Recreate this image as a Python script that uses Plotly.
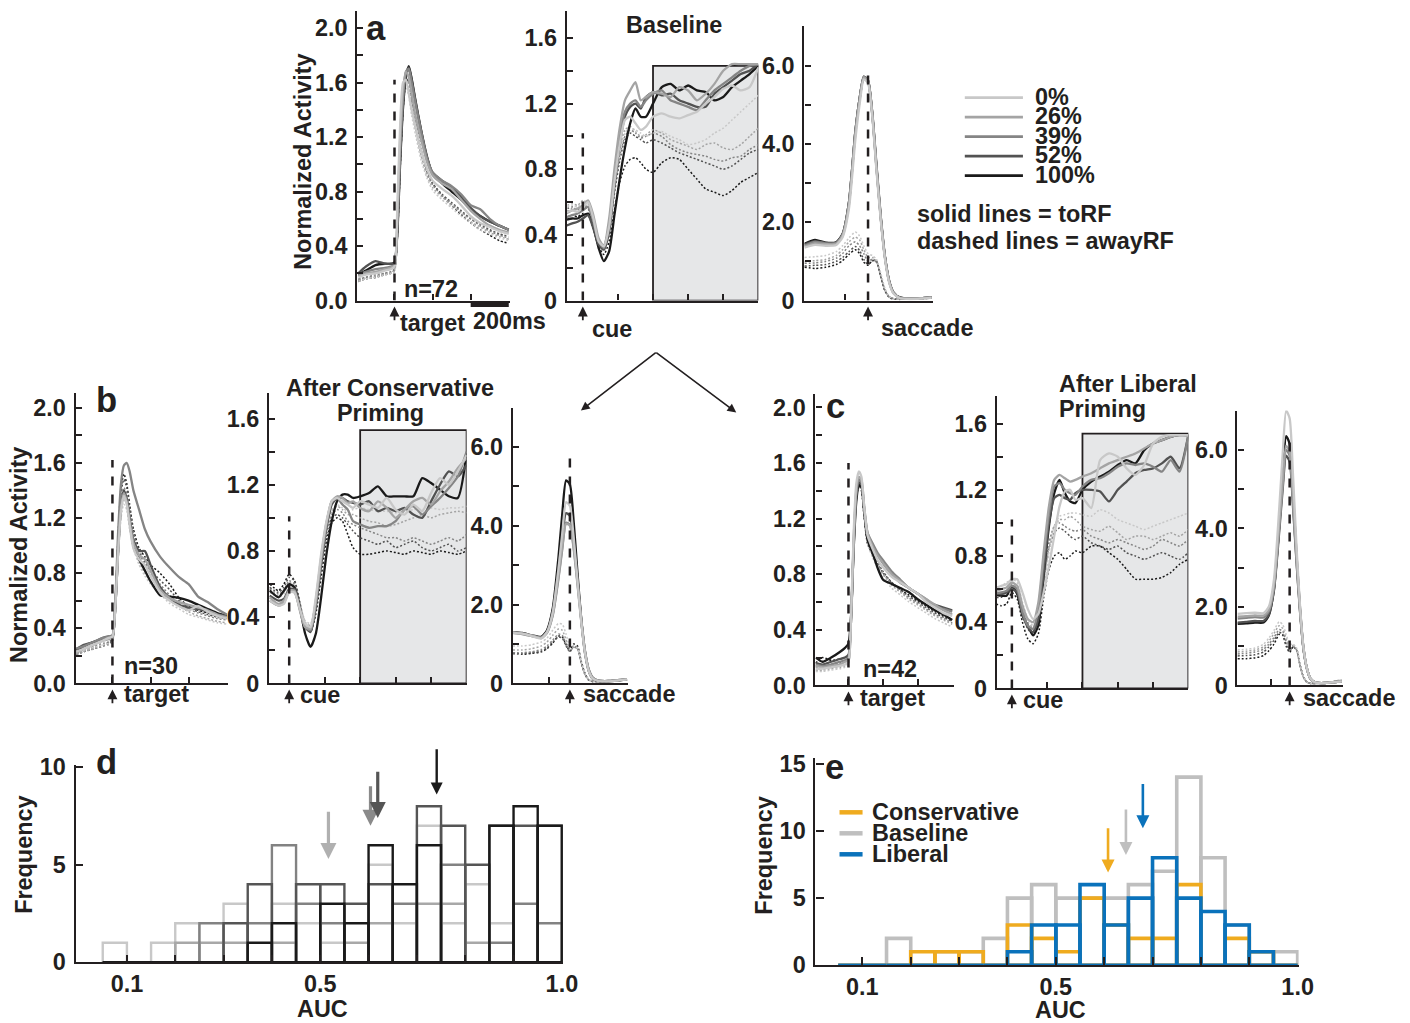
import plotly.graph_objects as go

W, H = 1410, 1023
FONT = "Liberation Sans"
INK = "#231f20"
# measured capture mapping of this page (picture = S * layout + B); positions are pre-compensated
RX_S, RX_B = 0.987, 0.5
RY_S, RY_B = 0.977, 10.3
K = 1.0 / ((RX_S + RY_S) / 2)   # pixel-size compensation

# ---------------- data ----------------
levels = ["0%", "26%", "39%", "52%", "100%"]
level_colors = ["#c8c8c8", "#a4a4a4", "#858585", "#525252", "#1a1a1a"]

t_target = [-190, -150, -100, -50, -20, 0, 15, 30, 45, 60, 75, 90, 110, 140, 170, 200, 250, 300, 350, 400, 450, 500, 550, 600]
t_cue = [-110, -60, -30, 0, 30, 60, 90, 120, 150, 180, 210, 240, 270, 300, 330, 360, 400, 450, 500, 550, 600, 650, 700, 750, 800, 850, 900, 950, 1000]
t_sacc = [-300, -250, -200, -150, -120, -90, -60, -40, -20, 0, 20, 40, 60, 80, 100, 120, 150, 200, 250, 300]

# ----- panel a (baseline, n=72) -----
a_target_toRF = [
    [0.17, 0.19, 0.20, 0.22, 0.23, 0.25, 0.70, 1.30, 1.60, 1.62, 1.52, 1.40, 1.28, 1.10, 0.97, 0.88, 0.82, 0.77, 0.70, 0.62, 0.57, 0.54, 0.51, 0.49],
    [0.18, 0.20, 0.21, 0.23, 0.24, 0.26, 0.62, 1.20, 1.55, 1.68, 1.64, 1.52, 1.36, 1.18, 1.02, 0.92, 0.86, 0.82, 0.74, 0.66, 0.60, 0.55, 0.52, 0.50],
    [0.19, 0.21, 0.23, 0.24, 0.25, 0.26, 0.55, 1.10, 1.48, 1.68, 1.70, 1.60, 1.45, 1.24, 1.05, 0.94, 0.88, 0.84, 0.78, 0.70, 0.67, 0.60, 0.55, 0.52],
    [0.20, 0.25, 0.29, 0.27, 0.27, 0.27, 0.52, 1.05, 1.45, 1.66, 1.71, 1.62, 1.46, 1.24, 1.05, 0.94, 0.88, 0.83, 0.76, 0.68, 0.62, 0.58, 0.55, 0.52],
    [0.19, 0.22, 0.26, 0.27, 0.27, 0.28, 0.50, 1.02, 1.42, 1.64, 1.72, 1.63, 1.47, 1.25, 1.06, 0.93, 0.86, 0.80, 0.74, 0.67, 0.62, 0.58, 0.55, 0.52],
]
a_target_awayRF = [
    [0.14, 0.16, 0.17, 0.19, 0.20, 0.21, 0.60, 1.20, 1.52, 1.58, 1.50, 1.36, 1.22, 1.03, 0.90, 0.81, 0.74, 0.68, 0.62, 0.57, 0.52, 0.49, 0.46, 0.44],
    [0.15, 0.16, 0.18, 0.19, 0.20, 0.22, 0.55, 1.12, 1.48, 1.62, 1.56, 1.42, 1.26, 1.06, 0.92, 0.83, 0.76, 0.70, 0.64, 0.58, 0.54, 0.50, 0.47, 0.45],
    [0.16, 0.17, 0.19, 0.20, 0.21, 0.22, 0.50, 1.05, 1.44, 1.62, 1.60, 1.46, 1.30, 1.08, 0.94, 0.85, 0.77, 0.71, 0.65, 0.60, 0.55, 0.51, 0.48, 0.46],
    [0.15, 0.17, 0.18, 0.20, 0.21, 0.23, 0.48, 1.02, 1.42, 1.62, 1.62, 1.48, 1.32, 1.10, 0.95, 0.86, 0.78, 0.72, 0.66, 0.60, 0.56, 0.52, 0.49, 0.47],
    [0.14, 0.16, 0.17, 0.19, 0.20, 0.22, 0.46, 0.98, 1.40, 1.60, 1.62, 1.50, 1.34, 1.11, 0.96, 0.86, 0.77, 0.70, 0.63, 0.57, 0.52, 0.48, 0.44, 0.42],
]
a_cue_toRF = [
    [0.53, 0.55, 0.54, 0.57, 0.60, 0.50, 0.36, 0.33, 0.45, 0.72, 0.95, 1.10, 1.12, 1.08, 1.04, 1.06, 1.12, 1.14, 1.12, 1.11, 1.13, 1.15, 1.20, 1.24, 1.29, 1.31, 1.28, 1.30, 1.42],
    [0.52, 0.55, 0.56, 0.58, 0.61, 0.52, 0.38, 0.33, 0.50, 0.80, 1.05, 1.22, 1.28, 1.33, 1.22, 1.24, 1.27, 1.26, 1.24, 1.30, 1.28, 1.22, 1.26, 1.32, 1.40, 1.44, 1.44, 1.44, 1.44],
    [0.50, 0.52, 0.53, 0.55, 0.57, 0.48, 0.36, 0.32, 0.46, 0.76, 1.00, 1.15, 1.20, 1.22, 1.18, 1.22, 1.26, 1.28, 1.22, 1.20, 1.18, 1.16, 1.22, 1.28, 1.32, 1.36, 1.40, 1.43, 1.44],
    [0.45, 0.47, 0.48, 0.50, 0.52, 0.44, 0.34, 0.31, 0.42, 0.70, 0.95, 1.12, 1.18, 1.20, 1.17, 1.24, 1.27, 1.25, 1.26, 1.22, 1.20, 1.18, 1.18, 1.26, 1.30, 1.34, 1.38, 1.40, 1.44],
    [0.49, 0.50, 0.50, 0.52, 0.53, 0.45, 0.32, 0.24, 0.30, 0.52, 0.74, 0.93, 1.08, 1.17, 1.12, 1.12, 1.20, 1.30, 1.32, 1.28, 1.31, 1.28, 1.27, 1.22, 1.24, 1.30, 1.34, 1.38, 1.43],
]
a_cue_awayRF = [
    [0.56, 0.58, 0.57, 0.60, 0.58, 0.48, 0.36, 0.34, 0.46, 0.70, 0.90, 1.02, 1.05, 1.04, 1.02, 1.00, 1.02, 1.03, 1.00, 0.98, 0.95, 0.96, 0.98, 1.02, 1.05, 1.10, 1.15, 1.20, 1.25],
    [0.57, 0.59, 0.58, 0.61, 0.59, 0.50, 0.37, 0.34, 0.48, 0.72, 0.92, 1.04, 1.06, 1.03, 1.00, 1.01, 1.04, 1.02, 0.98, 0.96, 0.94, 0.92, 0.95, 0.96, 0.93, 0.92, 0.95, 1.00, 1.05],
    [0.53, 0.56, 0.56, 0.58, 0.57, 0.48, 0.36, 0.32, 0.44, 0.68, 0.88, 1.00, 1.04, 1.02, 0.99, 1.00, 1.02, 1.00, 0.95, 0.92, 0.90, 0.89, 0.88, 0.86, 0.85, 0.87, 0.88, 0.92, 0.95],
    [0.55, 0.57, 0.55, 0.57, 0.56, 0.47, 0.35, 0.31, 0.42, 0.65, 0.85, 0.98, 1.02, 1.00, 0.98, 0.96, 0.98, 0.96, 0.93, 0.90, 0.88, 0.86, 0.84, 0.82, 0.80, 0.82, 0.86, 0.90, 0.92],
    [0.50, 0.52, 0.51, 0.53, 0.52, 0.44, 0.33, 0.28, 0.36, 0.55, 0.72, 0.82, 0.86, 0.87, 0.84, 0.80, 0.78, 0.84, 0.87, 0.86, 0.80, 0.74, 0.68, 0.66, 0.64, 0.67, 0.72, 0.75, 0.78],
]
a_sacc_toRF = [
    [1.35, 1.42, 1.40, 1.42, 1.62, 2.35, 4.10, 5.00, 5.65, 5.55, 4.70, 3.30, 2.05, 1.05, 0.45, 0.18, 0.06, 0.04, 0.05, 0.07],
    [1.38, 1.46, 1.44, 1.45, 1.66, 2.45, 4.25, 5.10, 5.70, 5.60, 4.75, 3.35, 2.10, 1.08, 0.47, 0.19, 0.07, 0.05, 0.06, 0.08],
    [1.40, 1.50, 1.46, 1.47, 1.68, 2.50, 4.30, 5.15, 5.72, 5.62, 4.78, 3.40, 2.12, 1.10, 0.48, 0.20, 0.07, 0.05, 0.06, 0.08],
    [1.43, 1.52, 1.47, 1.48, 1.70, 2.50, 4.30, 5.15, 5.70, 5.60, 4.75, 3.38, 2.10, 1.10, 0.48, 0.20, 0.07, 0.05, 0.06, 0.08],
    [1.45, 1.55, 1.48, 1.49, 1.70, 2.52, 4.32, 5.15, 5.72, 5.62, 4.80, 3.45, 2.15, 1.12, 0.50, 0.21, 0.08, 0.05, 0.06, 0.08],
]
a_sacc_awayRF = [
    [1.10, 1.12, 1.15, 1.25, 1.40, 1.60, 1.75, 1.65, 1.40, 1.20, 1.15, 1.05, 0.70, 0.30, 0.10, 0.05, 0.04, 0.04, 0.05, 0.06],
    [1.00, 1.02, 1.05, 1.15, 1.30, 1.50, 1.62, 1.55, 1.30, 1.10, 1.10, 1.02, 0.65, 0.28, 0.10, 0.05, 0.04, 0.04, 0.05, 0.06],
    [0.95, 0.96, 1.00, 1.08, 1.20, 1.40, 1.50, 1.40, 1.20, 1.00, 1.06, 1.00, 0.62, 0.26, 0.09, 0.05, 0.04, 0.04, 0.05, 0.06],
    [0.88, 0.90, 0.92, 1.00, 1.10, 1.25, 1.38, 1.28, 1.05, 0.92, 1.02, 0.98, 0.60, 0.25, 0.09, 0.05, 0.04, 0.04, 0.05, 0.06],
    [0.85, 0.82, 0.85, 0.92, 1.02, 1.18, 1.30, 1.20, 0.98, 0.90, 1.02, 1.00, 0.62, 0.25, 0.08, 0.04, 0.03, 0.04, 0.05, 0.06],
]

# ----- panel b (after conservative priming, n=30) -----
b_target_toRF = [
    [0.23, 0.25, 0.28, 0.31, 0.33, 0.34, 0.55, 0.95, 1.25, 1.36, 1.30, 1.15, 0.98, 0.90, 0.86, 0.78, 0.66, 0.60, 0.56, 0.53, 0.56, 0.52, 0.49, 0.47],
    [0.22, 0.25, 0.28, 0.31, 0.32, 0.33, 0.55, 0.96, 1.28, 1.38, 1.32, 1.18, 1.02, 0.93, 0.90, 0.82, 0.68, 0.62, 0.59, 0.57, 0.55, 0.53, 0.50, 0.48],
    [0.25, 0.27, 0.30, 0.33, 0.34, 0.35, 0.60, 1.10, 1.45, 1.58, 1.60, 1.54, 1.40, 1.26, 1.12, 1.03, 0.92, 0.84, 0.77, 0.72, 0.63, 0.59, 0.54, 0.50],
    [0.25, 0.28, 0.30, 0.33, 0.34, 0.34, 0.56, 0.98, 1.30, 1.40, 1.34, 1.20, 1.04, 0.96, 0.96, 0.86, 0.70, 0.62, 0.57, 0.55, 0.54, 0.52, 0.50, 0.49],
    [0.24, 0.27, 0.30, 0.32, 0.33, 0.34, 0.55, 0.96, 1.28, 1.38, 1.33, 1.18, 1.00, 0.90, 0.82, 0.74, 0.64, 0.63, 0.62, 0.60, 0.57, 0.54, 0.51, 0.49],
]
b_target_awayRF = [
    [0.22, 0.24, 0.26, 0.28, 0.29, 0.30, 0.50, 0.90, 1.20, 1.30, 1.26, 1.12, 0.98, 0.86, 0.78, 0.72, 0.65, 0.58, 0.54, 0.50, 0.48, 0.46, 0.44, 0.43],
    [0.21, 0.23, 0.25, 0.27, 0.28, 0.30, 0.52, 0.95, 1.25, 1.34, 1.30, 1.16, 1.00, 0.88, 0.80, 0.74, 0.66, 0.60, 0.56, 0.52, 0.49, 0.47, 0.45, 0.44],
    [0.23, 0.25, 0.27, 0.29, 0.30, 0.31, 0.55, 1.00, 1.32, 1.42, 1.38, 1.24, 1.08, 0.94, 0.86, 0.80, 0.72, 0.64, 0.58, 0.54, 0.51, 0.49, 0.47, 0.46],
    [0.22, 0.24, 0.26, 0.28, 0.30, 0.32, 0.56, 1.05, 1.38, 1.48, 1.42, 1.28, 1.10, 0.96, 0.88, 0.82, 0.75, 0.68, 0.60, 0.55, 0.52, 0.50, 0.48, 0.47],
    [0.21, 0.23, 0.25, 0.27, 0.29, 0.31, 0.58, 1.08, 1.42, 1.52, 1.45, 1.30, 1.12, 0.98, 0.92, 0.86, 0.80, 0.72, 0.62, 0.56, 0.53, 0.51, 0.49, 0.48],
]
b_cue_toRF = [
    [0.50, 0.47, 0.48, 0.55, 0.55, 0.45, 0.36, 0.34, 0.52, 0.78, 0.98, 1.10, 1.12, 1.10, 1.08, 1.06, 1.10, 1.08, 1.06, 1.12, 1.05, 1.02, 1.08, 1.04, 1.15, 1.24, 1.20, 1.28, 1.38],
    [0.52, 0.48, 0.50, 0.56, 0.56, 0.44, 0.34, 0.33, 0.50, 0.76, 0.97, 1.10, 1.13, 1.12, 1.09, 1.10, 1.06, 1.04, 1.10, 1.06, 1.00, 1.05, 1.10, 1.12, 1.08, 1.16, 1.22, 1.30, 1.36],
    [0.50, 0.47, 0.49, 0.55, 0.55, 0.45, 0.34, 0.32, 0.48, 0.74, 0.96, 1.10, 1.12, 1.08, 1.05, 0.98, 0.96, 0.94, 0.95, 0.95, 0.98, 1.05, 1.07, 1.02, 1.07, 1.12, 1.18, 1.25, 1.40],
    [0.53, 0.50, 0.51, 0.57, 0.57, 0.46, 0.34, 0.31, 0.46, 0.72, 0.94, 1.08, 1.12, 1.12, 1.10, 1.09, 1.08, 1.10, 1.04, 1.06, 1.04, 1.06, 1.02, 1.00, 1.10, 1.20, 1.28, 1.25, 1.32],
    [0.56, 0.52, 0.56, 0.60, 0.58, 0.46, 0.30, 0.22, 0.30, 0.52, 0.78, 0.98, 1.10, 1.14, 1.14, 1.12, 1.13, 1.15, 1.19, 1.13, 1.13, 1.13, 1.13, 1.24, 1.21, 1.17, 1.13, 1.12, 1.39],
]
b_cue_awayRF = [
    [0.55, 0.52, 0.54, 0.60, 0.58, 0.48, 0.38, 0.36, 0.50, 0.75, 0.95, 1.05, 1.08, 1.06, 1.04, 1.05, 1.06, 1.05, 1.04, 1.04, 1.03, 1.04, 1.05, 1.05, 1.06, 1.05, 1.06, 1.06, 1.07],
    [0.56, 0.53, 0.55, 0.61, 0.59, 0.48, 0.37, 0.35, 0.50, 0.74, 0.94, 1.04, 1.07, 1.05, 1.02, 1.02, 1.00, 0.98, 0.97, 0.95, 0.96, 0.98, 1.00, 1.02, 1.00, 1.02, 1.03, 1.04, 1.03],
    [0.57, 0.54, 0.56, 0.62, 0.60, 0.48, 0.36, 0.34, 0.48, 0.72, 0.92, 1.02, 1.05, 1.03, 0.98, 0.96, 0.94, 0.92, 0.90, 0.88, 0.88, 0.86, 0.88, 0.86, 0.84, 0.86, 0.88, 0.86, 0.90],
    [0.58, 0.55, 0.58, 0.64, 0.62, 0.49, 0.36, 0.33, 0.46, 0.70, 0.90, 1.00, 1.02, 1.00, 0.96, 0.92, 0.88, 0.86, 0.84, 0.86, 0.82, 0.84, 0.86, 0.82, 0.80, 0.82, 0.84, 0.80, 0.82],
    [0.60, 0.56, 0.60, 0.66, 0.62, 0.48, 0.35, 0.31, 0.42, 0.64, 0.86, 0.97, 1.00, 0.98, 0.90, 0.82, 0.78, 0.78, 0.79, 0.80, 0.79, 0.78, 0.80, 0.79, 0.78, 0.80, 0.79, 0.78, 0.80],
]
b_sacc_toRF = [
    [1.28, 1.26, 1.20, 1.14, 1.30, 1.80, 2.90, 3.80, 4.60, 4.50, 3.70, 2.60, 1.55, 0.75, 0.30, 0.12, 0.06, 0.05, 0.07, 0.10],
    [1.30, 1.27, 1.22, 1.16, 1.30, 1.75, 2.70, 3.45, 4.05, 4.00, 3.40, 2.50, 1.55, 0.78, 0.32, 0.14, 0.07, 0.06, 0.08, 0.10],
    [1.28, 1.25, 1.20, 1.15, 1.28, 1.72, 2.65, 3.40, 4.08, 4.02, 3.45, 2.55, 1.60, 0.80, 0.34, 0.15, 0.07, 0.06, 0.08, 0.10],
    [1.29, 1.27, 1.21, 1.17, 1.32, 1.85, 2.90, 3.70, 4.32, 4.25, 3.60, 2.65, 1.62, 0.80, 0.33, 0.14, 0.07, 0.06, 0.08, 0.10],
    [1.30, 1.28, 1.22, 1.18, 1.35, 1.90, 3.20, 4.30, 5.15, 5.05, 4.10, 2.80, 1.60, 0.75, 0.30, 0.12, 0.06, 0.05, 0.07, 0.10],
]
b_sacc_awayRF = [
    [0.95, 0.95, 0.98, 1.05, 1.15, 1.35, 1.52, 1.50, 1.25, 0.95, 0.95, 0.90, 0.55, 0.25, 0.10, 0.06, 0.05, 0.05, 0.07, 0.09],
    [0.85, 0.85, 0.88, 0.95, 1.05, 1.22, 1.38, 1.35, 1.10, 0.88, 0.92, 0.88, 0.52, 0.22, 0.09, 0.05, 0.05, 0.05, 0.07, 0.09],
    [0.78, 0.78, 0.80, 0.86, 0.95, 1.10, 1.25, 1.22, 1.00, 0.82, 0.92, 0.88, 0.50, 0.22, 0.08, 0.05, 0.05, 0.05, 0.07, 0.09],
    [0.75, 0.76, 0.78, 0.82, 0.90, 1.05, 1.18, 1.15, 0.95, 0.80, 0.95, 0.90, 0.52, 0.22, 0.08, 0.05, 0.05, 0.05, 0.07, 0.09],
    [0.78, 0.74, 0.76, 0.80, 0.88, 1.02, 1.20, 1.18, 0.98, 0.82, 1.00, 0.95, 0.55, 0.24, 0.08, 0.05, 0.05, 0.05, 0.07, 0.10],
]

# ----- panel c (after liberal priming, n=42) -----
c_target_toRF = [
    [0.12, 0.12, 0.13, 0.14, 0.15, 0.17, 0.50, 1.10, 1.45, 1.54, 1.50, 1.30, 1.08, 0.98, 0.90, 0.85, 0.78, 0.74, 0.70, 0.66, 0.60, 0.56, 0.52, 0.50],
    [0.14, 0.13, 0.14, 0.15, 0.17, 0.18, 0.48, 1.05, 1.40, 1.50, 1.48, 1.30, 1.10, 1.00, 0.93, 0.88, 0.80, 0.75, 0.70, 0.66, 0.62, 0.58, 0.54, 0.51],
    [0.15, 0.14, 0.15, 0.17, 0.18, 0.20, 0.48, 1.02, 1.38, 1.48, 1.46, 1.28, 1.10, 1.02, 0.95, 0.90, 0.82, 0.76, 0.70, 0.66, 0.62, 0.57, 0.55, 0.53],
    [0.16, 0.15, 0.17, 0.19, 0.20, 0.22, 0.47, 1.00, 1.36, 1.46, 1.45, 1.28, 1.08, 1.00, 0.94, 0.88, 0.80, 0.74, 0.70, 0.66, 0.61, 0.58, 0.56, 0.54],
    [0.20, 0.17, 0.20, 0.24, 0.27, 0.30, 0.50, 0.98, 1.32, 1.44, 1.43, 1.26, 1.05, 0.95, 0.84, 0.76, 0.73, 0.70, 0.67, 0.62, 0.58, 0.54, 0.51, 0.47],
]
c_target_awayRF = [
    [0.10, 0.10, 0.11, 0.12, 0.13, 0.15, 0.45, 1.00, 1.38, 1.48, 1.44, 1.24, 1.02, 0.92, 0.84, 0.78, 0.70, 0.65, 0.60, 0.56, 0.52, 0.48, 0.45, 0.42],
    [0.11, 0.11, 0.12, 0.13, 0.14, 0.16, 0.46, 1.02, 1.40, 1.50, 1.45, 1.25, 1.03, 0.93, 0.86, 0.80, 0.72, 0.67, 0.62, 0.58, 0.54, 0.50, 0.47, 0.44],
    [0.13, 0.12, 0.13, 0.14, 0.15, 0.17, 0.46, 1.00, 1.38, 1.48, 1.44, 1.25, 1.04, 0.94, 0.87, 0.81, 0.73, 0.68, 0.63, 0.59, 0.55, 0.51, 0.48, 0.45],
    [0.14, 0.14, 0.15, 0.16, 0.17, 0.19, 0.47, 1.00, 1.36, 1.46, 1.42, 1.24, 1.04, 0.95, 0.88, 0.82, 0.74, 0.69, 0.64, 0.60, 0.56, 0.52, 0.49, 0.46],
    [0.16, 0.20, 0.18, 0.19, 0.20, 0.22, 0.48, 1.00, 1.34, 1.44, 1.40, 1.22, 1.02, 0.94, 0.87, 0.81, 0.74, 0.69, 0.65, 0.61, 0.57, 0.53, 0.50, 0.47],
]
c_cue_toRF = [
    [0.60, 0.62, 0.63, 0.66, 0.66, 0.58, 0.48, 0.42, 0.45, 0.58, 0.74, 0.92, 1.10, 1.19, 1.20, 1.14, 1.15, 1.09, 1.38, 1.42, 1.40, 1.33, 1.29, 1.35, 1.48, 1.52, 1.53, 1.53, 1.53],
    [0.58, 0.60, 0.61, 0.64, 0.62, 0.50, 0.42, 0.40, 0.52, 0.82, 1.10, 1.26, 1.29, 1.27, 1.25, 1.26, 1.28, 1.30, 1.33, 1.36, 1.38, 1.40, 1.42, 1.45, 1.48, 1.50, 1.52, 1.53, 1.53],
    [0.57, 0.58, 0.59, 0.62, 0.60, 0.46, 0.38, 0.36, 0.48, 0.78, 1.05, 1.22, 1.24, 1.20, 1.18, 1.17, 1.22, 1.26, 1.27, 1.30, 1.34, 1.36, 1.35, 1.36, 1.34, 1.31, 1.38, 1.31, 1.53],
    [0.58, 0.57, 0.58, 0.60, 0.58, 0.45, 0.37, 0.34, 0.42, 0.70, 1.00, 1.15, 1.17, 1.15, 1.14, 1.18, 1.20, 1.20, 1.19, 1.13, 1.20, 1.25, 1.30, 1.32, 1.33, 1.36, 1.40, 1.33, 1.53],
    [0.57, 0.56, 0.56, 0.62, 0.57, 0.44, 0.38, 0.32, 0.38, 0.68, 0.98, 1.18, 1.26, 1.18, 1.13, 1.12, 1.20, 1.25, 1.28, 1.31, 1.35, 1.38, 1.36, 1.44, 1.48, 1.50, 1.52, 1.53, 1.53],
]
c_cue_awayRF = [
    [0.60, 0.62, 0.64, 0.66, 0.64, 0.52, 0.42, 0.38, 0.46, 0.62, 0.82, 0.98, 1.04, 1.05, 1.06, 1.06, 1.05, 1.04, 1.08, 1.06, 1.02, 1.00, 0.98, 0.96, 0.98, 1.00, 1.02, 1.04, 1.06],
    [0.58, 0.60, 0.61, 0.63, 0.61, 0.50, 0.40, 0.37, 0.44, 0.64, 0.85, 0.98, 1.02, 1.02, 1.04, 1.02, 0.98, 0.96, 0.95, 0.98, 0.94, 0.90, 0.92, 0.92, 0.90, 0.92, 0.94, 0.92, 0.96],
    [0.56, 0.57, 0.58, 0.61, 0.59, 0.48, 0.38, 0.35, 0.42, 0.66, 0.88, 0.98, 1.00, 0.98, 0.96, 0.95, 0.96, 0.92, 0.90, 0.88, 0.90, 0.88, 0.86, 0.84, 0.86, 0.90, 0.88, 0.86, 0.90],
    [0.55, 0.55, 0.56, 0.60, 0.58, 0.46, 0.36, 0.33, 0.40, 0.62, 0.84, 0.94, 0.97, 0.95, 0.92, 0.90, 0.92, 0.88, 0.86, 0.84, 0.86, 0.82, 0.80, 0.78, 0.80, 0.82, 0.80, 0.78, 0.82],
    [0.52, 0.50, 0.51, 0.58, 0.54, 0.40, 0.30, 0.27, 0.33, 0.55, 0.72, 0.80, 0.82, 0.78, 0.80, 0.83, 0.82, 0.86, 0.86, 0.82, 0.78, 0.72, 0.66, 0.66, 0.66, 0.67, 0.70, 0.75, 0.78],
]
c_sacc_toRF = [
    [1.82, 1.84, 1.85, 1.84, 2.00, 2.70, 4.50, 5.90, 7.00, 6.80, 5.30, 3.50, 2.00, 0.95, 0.42, 0.17, 0.07, 0.06, 0.08, 0.10],
    [1.75, 1.76, 1.78, 1.78, 1.92, 2.55, 4.10, 5.20, 6.10, 5.95, 4.70, 3.20, 1.90, 0.92, 0.42, 0.17, 0.07, 0.06, 0.08, 0.10],
    [1.70, 1.72, 1.74, 1.73, 1.88, 2.50, 4.00, 5.10, 6.00, 5.85, 4.60, 3.15, 1.88, 0.92, 0.42, 0.17, 0.07, 0.06, 0.08, 0.10],
    [1.60, 1.62, 1.64, 1.64, 1.80, 2.42, 3.90, 5.00, 5.85, 5.70, 4.50, 3.10, 1.85, 0.90, 0.41, 0.16, 0.07, 0.06, 0.08, 0.10],
    [1.57, 1.58, 1.60, 1.60, 1.78, 2.45, 4.05, 5.35, 6.35, 6.15, 4.85, 3.30, 1.95, 0.93, 0.42, 0.17, 0.07, 0.06, 0.08, 0.10],
]
c_sacc_awayRF = [
    [0.90, 0.92, 0.95, 1.05, 1.20, 1.40, 1.62, 1.55, 1.30, 1.05, 1.05, 0.95, 0.55, 0.22, 0.08, 0.05, 0.05, 0.06, 0.10, 0.15],
    [0.85, 0.87, 0.90, 0.98, 1.12, 1.32, 1.52, 1.45, 1.20, 0.98, 1.02, 0.92, 0.52, 0.20, 0.08, 0.05, 0.05, 0.06, 0.10, 0.14],
    [0.80, 0.82, 0.85, 0.92, 1.05, 1.22, 1.42, 1.38, 1.12, 0.92, 1.00, 0.90, 0.50, 0.20, 0.08, 0.05, 0.05, 0.06, 0.09, 0.13],
    [0.75, 0.76, 0.78, 0.85, 0.98, 1.15, 1.35, 1.30, 1.05, 0.88, 0.98, 0.90, 0.50, 0.20, 0.08, 0.05, 0.05, 0.06, 0.09, 0.12],
    [0.68, 0.68, 0.70, 0.76, 0.88, 1.05, 1.30, 1.28, 1.00, 0.84, 0.98, 0.92, 0.52, 0.21, 0.08, 0.05, 0.05, 0.06, 0.09, 0.12],
]

# ----- AUC histograms -----
auc_bins = [0.075, 0.125, 0.175, 0.225, 0.275, 0.325, 0.375, 0.425, 0.475, 0.525,
            0.575, 0.625, 0.675, 0.725, 0.775, 0.825, 0.875, 0.925, 0.975]
d_counts_0 = [1, 0, 1, 2, 0, 3, 0, 3, 2, 1, 0, 5, 2, 7, 2, 4, 2, 0, 0]
d_counts_26 = [0, 0, 0, 1, 1, 1, 0, 1, 0, 0, 1, 2, 0, 3, 3, 1, 0, 0, 0]
d_counts_39 = [0, 0, 0, 0, 2, 0, 2, 6, 3, 2, 0, 0, 3, 0, 5, 0, 1, 3, 2]
d_counts_52 = [0, 0, 0, 0, 0, 2, 4, 0, 4, 4, 3, 4, 0, 8, 7, 5, 7, 7, 7]
d_counts_100 = [0, 0, 0, 0, 0, 0, 1, 2, 0, 3, 2, 6, 4, 6, 0, 0, 7, 8, 7]
d_hist_colors = ["#c8c8c8", "#a8a8a8", "#828282", "#555555", "#1a1a1a"]
d_median_auc = [0.517, 0.604, 0.619, 0.741]
d_arrow_from = [7.8, 9.1, 9.85, 11.0]
d_arrow_to = [5.3, 7.0, 7.4, 8.6]
d_arrow_colors = ["#b0b0b0", "#8a8a8a", "#555555", "#1a1a1a"]

e_names = ["Conservative", "Baseline", "Liberal"]
e_colors = ["#efab1f", "#bfbfbf", "#0a72bb"]
e_conservative = [0, 0, 0, 1, 1, 1, 0, 3, 2, 1, 5, 3, 2, 2, 6, 0, 2, 1, 0]
e_baseline = [0, 0, 2, 0, 1, 1, 2, 5, 6, 5, 5, 5, 6, 7, 14, 8, 3, 1, 1]
e_liberal = [0, 0, 0, 0, 0, 0, 0, 1, 3, 3, 6, 3, 5, 8, 5, 4, 3, 1, 0]
e_median_auc = [0.608, 0.645, 0.680]
e_arrow_from = [10.3, 11.7, 13.6]
e_arrow_to = [6.9, 8.2, 10.2]

# tick labels
target_ticks = [0, 0.2, 0.4, 0.6, 0.8, 1.0, 1.2, 1.4, 1.6, 1.8, 2.0]
target_ticktext = ["0.0", "", "0.4", "", "0.8", "", "1.2", "", "1.6", "", "2.0"]
cue_ticks = [0, 0.2, 0.4, 0.6, 0.8, 1.0, 1.2, 1.4, 1.6]
cue_ticktext = ["0", "", "0.4", "", "0.8", "", "1.2", "", "1.6"]
sacc_ticks = [0, 1, 2, 3, 4, 5, 6, 7]
sacc_ticktext = ["0", "", "2.0", "", "4.0", "", "6.0", ""]
auc_ticks = [0.1, 0.2, 0.3, 0.4, 0.5, 0.6, 0.7, 0.8, 0.9, 1.0]
auc_ticktext = ["0.1", "", "", "", "0.5", "", "", "", "", "1.0"]

# ---------------- figure ----------------
FS = 23 * K
fig = go.Figure()
layout = dict(width=W, height=H, margin=dict(l=0, r=0, t=0, b=0),
              paper_bgcolor="white", plot_bgcolor="rgba(0,0,0,0)",
              showlegend=False, barmode="overlay",
              font=dict(family=FONT, size=FS, color=INK))
shapes = []
annotations = []


def fx_raw(px):
    return ((px - RX_B) / RX_S) / W


def fy_raw(py):
    return 1 - ((py - RY_B) / RY_S) / H


def fx(px):
    return min(1.0, max(0.0, fx_raw(px)))


def fy(py):
    return min(1.0, max(0.0, fy_raw(py)))


def base_axis(ticklen=6):
    return dict(showline=True, linecolor=INK, linewidth=2.2, ticks="inside",
                ticklen=ticklen, tickwidth=2, tickcolor=INK, showgrid=False,
                zeroline=False, fixedrange=True,
                tickfont=dict(family=FONT, size=FS, color=INK, weight="bold"))


def make_axes(n, xpx, ypx, xr, yr, xt, xtext, yt, ytext, ticklen=6, xlabels=False):
    sx = "" if n == 1 else str(n)
    xa = base_axis(ticklen)
    xa.update(domain=[fx(xpx[0]), fx(xpx[1])], range=xr, anchor="y" + sx,
              tickmode="array", tickvals=xt, ticktext=xtext, showticklabels=xlabels,
              ticklabelstandoff=0)
    ya = base_axis(ticklen)
    ya.update(domain=[fy(ypx[1]), fy(ypx[0])], range=yr, anchor="x" + sx,
              tickmode="array", tickvals=yt, ticktext=ytext, ticklabelstandoff=3)
    layout["xaxis" + sx] = xa
    layout["yaxis" + sx] = ya
    return "x" + sx, "y" + sx


def txt(px, py, s, size=23, xa="center", ya="middle", angle=0, color=INK):
    annotations.append(dict(x=fx_raw(px), y=fy_raw(py), xref="paper", yref="paper",
                            text="<b>" + s + "</b>", showarrow=False, xanchor=xa,
                            yanchor=ya, textangle=angle,
                            font=dict(family=FONT, size=size * K, color=color)))


def add_lines(xr, yr, t, to_rows, away_rows):
    # darker curves first so the lighter ones stay visible on top
    for row, col in list(zip(away_rows, level_colors))[::-1]:
        fig.add_trace(go.Scatter(x=t, y=row, xaxis=xr, yaxis=yr, mode="lines",
                                 line=dict(color=col, width=1.5, dash="2px,2px",
                                           shape="spline", smoothing=0.6),
                                 hoverinfo="skip"))
    for row, col in list(zip(to_rows, level_colors))[::-1]:
        fig.add_trace(go.Scatter(x=t, y=row, xaxis=xr, yaxis=yr, mode="lines",
                                 line=dict(color=col, width=2.3, shape="spline",
                                           smoothing=0.6),
                                 hoverinfo="skip"))


def event_marker(xr, yr, top, bottom_px):
    shapes.append(dict(type="line", xref=xr, yref=yr, x0=0, x1=0, y0=0, y1=top,
                       line=dict(color=INK, width=2.5, dash="dash")))
    annotations.append(dict(x=0, y=fy(bottom_px + 6), xref=xr, yref="paper", text="",
                            showarrow=True, ax=0, ay=15 * K, arrowhead=2, arrowsize=1.1,
                            arrowwidth=1.8, arrowcolor=INK))


panels = [
    # (x px, y px top/bottom, x range, y range, kind, t, toRF, awayRF, dashed top, box top)
    ((357, 509), (10, 300), [-195, 605], [0, 2.125], "target", t_target, a_target_toRF, a_target_awayRF, 1.62, None),
    ((566, 757), (10, 300), [-91, 1000], [0, 1.764], "cue", t_cue, a_cue_toRF, a_cue_awayRF, 1.02, 1.43),
    ((803, 931), (25, 300), [-300, 305], [0, 7.02], "sacc", t_sacc, a_sacc_toRF, a_sacc_awayRF, 5.75, None),
    ((76, 228), (392, 683), [-193, 607], [0, 2.11], "target", t_target, b_target_toRF, b_target_awayRF, 1.62, None),
    ((269, 466), (392, 683), [-113, 1000], [0, 1.757], "cue", t_cue, b_cue_toRF, b_cue_awayRF, 1.01, 1.53),
    ((512, 627), (407, 683), [-300, 305], [0, 7.0], "sacc", t_sacc, b_sacc_toRF, b_sacc_awayRF, 5.79, None),
    ((814, 952), (393, 685), [-191, 609], [0, 2.1], "target", t_target, c_target_toRF, c_target_awayRF, 1.6, None),
    ((995, 1186), (395, 688), [-85, 1000], [0, 1.77], "cue", t_cue, c_cue_toRF, c_cue_awayRF, 1.02, 1.54),
    ((1235, 1340), (410, 685), [-300, 305], [0, 7.0], "sacc", t_sacc, c_sacc_toRF, c_sacc_awayRF, 6.4, None),
]

for i, (xpx, ypx, xr_, yr_, kind, t, to_rows, away_rows, dtop, btop) in enumerate(panels):
    if kind == "target":
        yt, ytx, xt = target_ticks, target_ticktext, [0, 200, 400]
    elif kind == "cue":
        yt, ytx, xt = cue_ticks, cue_ticktext, [200, 400, 600, 800]
    else:
        yt, ytx, xt = sacc_ticks, sacc_ticktext, [-110]
    xr, yr = make_axes(i + 1, xpx, ypx, xr_, yr_, xt, [""] * len(xt), yt, ytx)
    if btop is not None:
        shapes.append(dict(type="rect", xref=xr, yref=yr, x0=400, x1=1000, y0=0, y1=btop,
                           fillcolor="#e6e7e8", line=dict(color=INK, width=1.8),
                           layer="below"))
    add_lines(xr, yr, t, to_rows, away_rows)
    event_marker(xr, yr, dtop, ypx[1])

# 200 ms scale bar in panel a (target axis)
shapes.append(dict(type="line", xref="x", yref="paper", x0=400, x1=600,
                   y0=fy(304), y1=fy(304), line=dict(color=INK, width=5)))

# ---------- histogram d ----------
xd, yd = make_axes(10, (76, 562), (765, 962), [-0.006, 1.002], [0, 10.1],
                   auc_ticks, auc_ticktext, [0, 5, 10], ["0", "5", "10"],
                   ticklen=7, xlabels=True)
for counts, col in zip([d_counts_0, d_counts_26, d_counts_39, d_counts_52, d_counts_100],
                       d_hist_colors):
    fig.add_trace(go.Bar(x=auc_bins, y=counts, width=0.05, xaxis=xd, yaxis=yd,
                         marker=dict(color="rgba(0,0,0,0)", line=dict(color=col, width=2.4)),
                         hoverinfo="skip"))
for xa_, y0_, y1_, col in zip(d_median_auc, d_arrow_from, d_arrow_to, d_arrow_colors):
    annotations.append(dict(x=xa_, y=y1_, ax=xa_, ay=y0_, xref=xd, yref=yd, axref=xd,
                            ayref=yd, text="", showarrow=True, arrowhead=2,
                            arrowsize=1, arrowwidth=3.2 if col != "#1a1a1a" else 2.4,
                            arrowcolor=col))

# ---------- histogram e ----------
xe, ye = make_axes(11, (814, 1296), (758, 965), [0.003, 1.002], [0, 15.4],
                   auc_ticks, auc_ticktext, [0, 5, 10, 15], ["0", "5", "10", "15"],
                   ticklen=8, xlabels=True)
for counts, col in zip([e_baseline, e_conservative, e_liberal],
                       [e_colors[1], e_colors[0], e_colors[2]]):
    fig.add_trace(go.Bar(x=auc_bins, y=counts, width=0.05, xaxis=xe, yaxis=ye,
                         marker=dict(color="rgba(0,0,0,0)", line=dict(color=col, width=3.6)),
                         hoverinfo="skip"))
for xa_, y0_, y1_, col in zip(e_median_auc, e_arrow_from, e_arrow_to, e_colors):
    annotations.append(dict(x=xa_, y=y1_, ax=xa_, ay=y0_, xref=xe, yref=ye, axref=xe,
                            ayref=ye, text="", showarrow=True, arrowhead=2,
                            arrowsize=1, arrowwidth=2.6, arrowcolor=col))
# legend e
for k, (name, col) in enumerate(zip(e_names, e_colors)):
    py = 812 + 21 * k
    shapes.append(dict(type="line", xref="paper", yref="paper", x0=fx(838), x1=fx(861),
                       y0=fy(py), y1=fy(py), line=dict(color=col, width=4.5)))
    txt(868, py, name, xa="left")

# ---------- legend a ----------
for k, (lab, col) in enumerate(zip(levels, level_colors)):
    py = 97 + 19.5 * k
    shapes.append(dict(type="line", xref="paper", yref="paper", x0=fx(963), x1=fx(1021),
                       y0=fy(py), y1=fy(py), line=dict(color=col, width=2.6)))
    txt(1031, py - 1, lab, xa="left")
txt(913, 213, "solid lines = toRF", xa="left")
txt(913, 240, "dashed lines = awayRF", xa="left")

# ---------- texts ----------
txt(376, 27, "a", size=34)
txt(673, 24, "Baseline")
txt(302, 161, "Normalized Activity", angle=-90)
txt(430, 288, "n=72")
txt(398, 322, "target", xa="left")
txt(470, 320, "200ms", xa="left")
txt(589, 328, "cue", xa="left")
txt(877, 327, "saccade", xa="left")

txt(107, 399, "b", size=34)
txt(20, 555, "Normalized Activity", angle=-90)
txt(390, 387, "After Conservative")
txt(380, 412, "Priming")
txt(151, 666, "n=30")
txt(122, 694, "target", xa="left")
txt(298, 695, "cue", xa="left")
txt(580, 694, "saccade", xa="left")

txt(834, 405, "c", size=34)
txt(1055, 383, "After Liberal", xa="left")
txt(1055, 408, "Priming", xa="left")
txt(888, 669, "n=42")
txt(856, 698, "target", xa="left")
txt(1019, 700, "cue", xa="left")
txt(1298, 698, "saccade", xa="left")

txt(107, 762, "d", size=34)
txt(25, 855, "Frequency", angle=-90)
txt(322, 1009, "AUC")

txt(833, 767, "e", size=34)
txt(763, 855, "Frequency", angle=-90)
txt(1058, 1010, "AUC")

# arrows from baseline to the two priming conditions
annotations.append(dict(x=fx(580), y=fy(410), xref="paper", yref="paper", text="",
                        showarrow=True, ax=75 * K, ay=-58 * K, arrowhead=2, arrowsize=1.1,
                        arrowwidth=1.6, arrowcolor=INK))
annotations.append(dict(x=fx(735), y=fy(412), xref="paper", yref="paper", text="",
                        showarrow=True, ax=-80 * K, ay=-60 * K, arrowhead=2, arrowsize=1.1,
                        arrowwidth=1.6, arrowcolor=INK))

layout["shapes"] = shapes
layout["annotations"] = annotations
fig.update_layout(**layout)
fig.write_html("out.html")
